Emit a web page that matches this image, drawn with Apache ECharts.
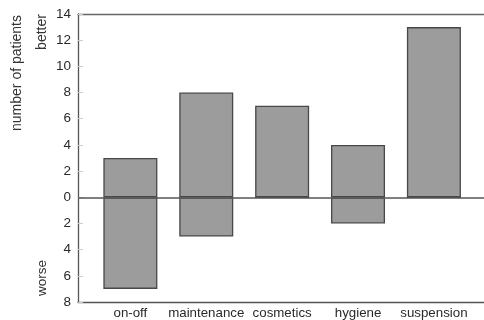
<!DOCTYPE html>
<html><head><meta charset="utf-8">
<script src="https://cdn.jsdelivr.net/npm/echarts@6/dist/echarts.min.js"></script>
<style>html,body{margin:0;padding:0;background:#fff}#c{width:484px;height:320px}</style>
</head><body><div id="c"></div>
<script>
const categories = ['on-off', 'maintenance', 'cosmetics', 'hygiene', 'suspension'];
const betterValues = [3, 8, 7, 4, 13];
const worseValues = [-7, -3, 0, -2, 0];
const yTicks = [-8, -6, -4, -2, 0, 2, 4, 6, 8, 10, 12, 14];

const chart = echarts.init(document.getElementById('c'), null, {renderer: 'canvas'});
const font = 'Liberation Sans, Arial, sans-serif';
const barStyle = {color: '#9c9c9c', borderColor: '#484848', borderWidth: 1.3};
chart.setOption({
  animation: false,
  grid: {left: 78, right: 0, top: 14, bottom: 18, containLabel: false},
  xAxis: [{
    type: 'value', min: -0.69, max: 4.66, minInterval: 1, maxInterval: 1,
    splitLine: {show: false},
    axisLine: {show: true, onZero: false, lineStyle: {color: '#555', width: 1.3}},
    axisTick: {show: false},
    axisLabel: {
      showMinLabel: false, showMaxLabel: false,
      fontFamily: font, fontSize: 13.3, color: '#2a2a2a', margin: 5,
      formatter: v => (Math.abs(v - Math.round(v)) < 1e-6 && categories[Math.round(v)]) ? categories[Math.round(v)] : ''
    }
  }, {
    type: 'value', position: 'top', min: -0.69, max: 4.66,
    splitLine: {show: false}, axisTick: {show: false}, axisLabel: {show: false},
    axisLine: {show: true, onZero: false, lineStyle: {color: '#666', width: 1.3}}
  }],
  yAxis: {
    type: 'value', min: yTicks[0], max: yTicks[yTicks.length - 1], interval: 2,
    splitLine: {show: false},
    axisLine: {show: true, onZero: false, lineStyle: {color: '#555', width: 1.3}},
    axisTick: {show: true, inside: true, length: 5, lineStyle: {color: '#ccc'}},
    axisLabel: {fontFamily: font, fontSize: 13.5, color: '#2a2a2a', margin: 7,
      formatter: v => String(Math.abs(v))}
  },
  series: [{
    type: 'bar', xAxisIndex: 0, barWidth: 54, barGap: '-100%',
    data: betterValues.map((v, i) => [i, v]),
    itemStyle: barStyle,
    markLine: {
      silent: true, symbol: 'none', label: {show: false},
      lineStyle: {color: '#555', width: 1.5, type: 'solid'},
      data: [{yAxis: 0}]
    }
  }, {
    type: 'bar', xAxisIndex: 0, barWidth: 54, barGap: '-100%',
    data: worseValues.map((v, i) => [i, v]),
    itemStyle: barStyle
  }],
  graphic: [
    {type: 'text', x: 17, y: 73, rotation: Math.PI / 2,
      style: {text: 'number of patients', fontFamily: font, fontSize: 14, fill: '#333', align: 'center', verticalAlign: 'middle'}},
    {type: 'text', x: 42, y: 32, rotation: Math.PI / 2,
      style: {text: 'better', fontFamily: font, fontSize: 14, fill: '#333', align: 'center', verticalAlign: 'middle'}},
    {type: 'text', x: 42, y: 278, rotation: Math.PI / 2,
      style: {text: 'worse', fontFamily: font, fontSize: 13.5, fill: '#333', align: 'center', verticalAlign: 'middle'}}
  ]
});
</script></body></html>
